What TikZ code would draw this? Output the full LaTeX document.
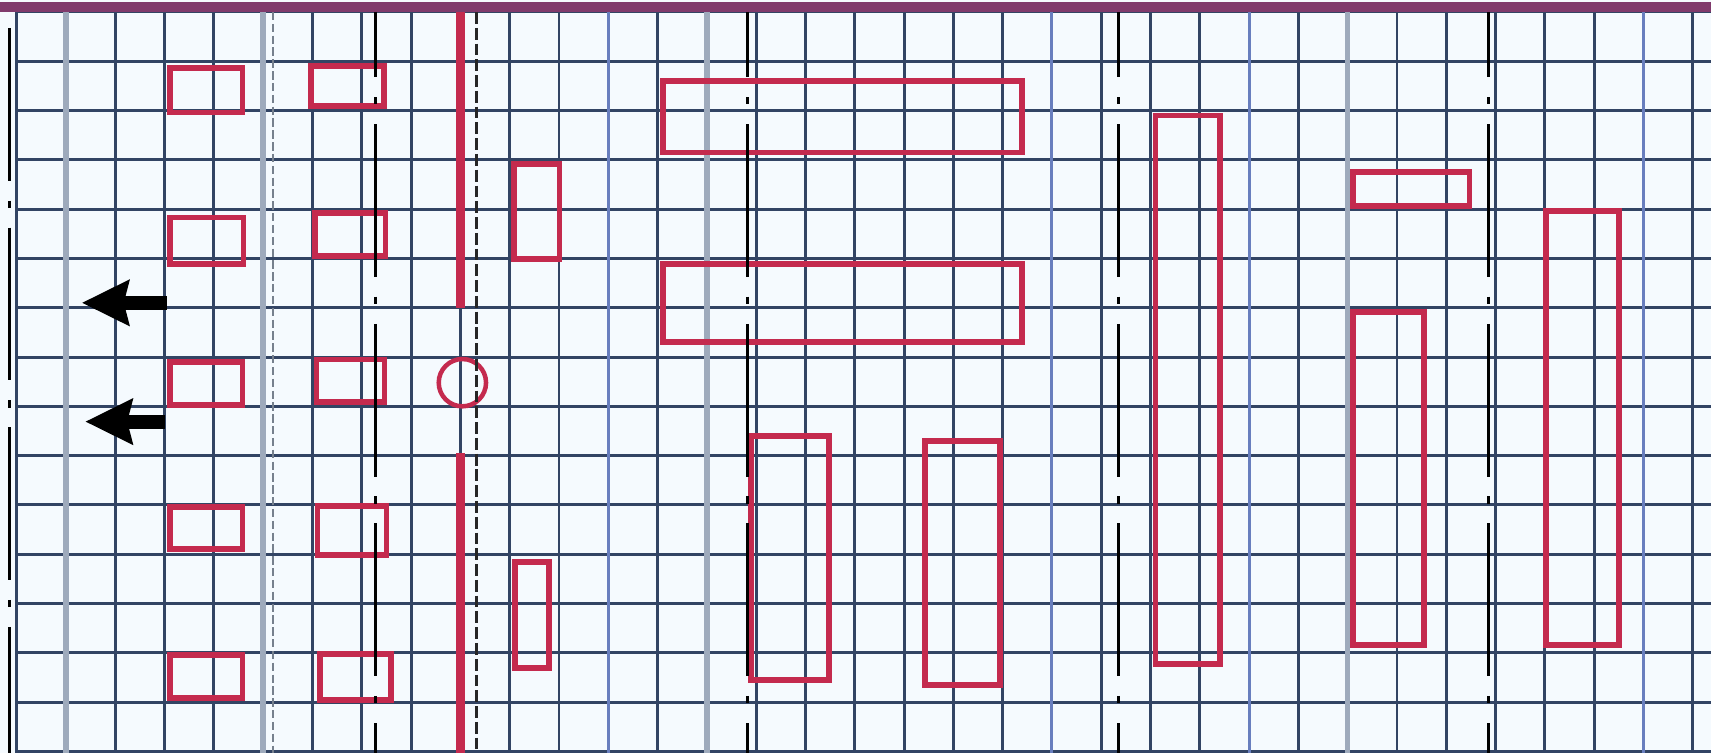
\documentclass[tikz,border=0pt]{standalone}
\usetikzlibrary{arrows.meta}

\definecolor{paper}{RGB}{245,250,254}
\definecolor{gridDark}{RGB}{50,68,100}
\definecolor{gridBlue}{RGB}{104,126,190}
\definecolor{gridGrey}{RGB}{158,170,188}
\definecolor{wallRed}{RGB}{196,42,78}
\definecolor{topRim}{RGB}{128,58,108}

\begin{document}
\begin{tikzpicture}[
    x=1cm, y=1cm,
    gridLine/.style={draw=gridDark, line width=1.7pt},
    softLine/.style={draw=gridBlue, line width=1.7pt},
    greyLine/.style={draw=gridGrey, line width=3.2pt},
    room/.style={draw=wallRed, line width=3.4pt},
    wall/.style={draw=wallRed, line width=5pt},
    axisLine/.style={draw=black, line width=1.8pt, dash pattern=on 3.1cm off 0.4cm on 0.15cm off 0.4cm},
    cutLine/.style={draw=black!85, line width=1.6pt, dash pattern=on 0.24cm off 0.08cm},
    greyDash/.style={draw=gridGrey!75!black, line width=1.6pt, dash pattern=on 0.17cm off 0.07cm},
    bigArrow/.style={-{Stealth[length=0.95cm, width=0.9cm, inset=0.1cm]}, line width=0.28cm}
]
    \useasboundingbox[fill=paper] (-0.34,0.243) rectangle (34.37,-15.03);

    \draw[gridLine] (0,-15.03) grid (34.37,0);
    \foreach \k in {12,21,25,33} \draw[softLine] (\k,0) -- (\k,-15.03);
    \foreach \k in {1,5,14,27} \draw[greyLine] (\k,0) -- (\k,-15.03);
    \draw[greyDash] (5.2,0) -- (5.2,-15.03);

    \draw[topRim, line width=5.8pt] (-0.34,0.1) -- (34.37,0.1);

    % rooms, left block
    \draw[room] (3.1,-1.13) rectangle (4.58,-2.04);
    \draw[room] (3.1,-4.17) rectangle (4.6,-5.12);
    \draw[room] (3.1,-7.1) rectangle (4.58,-7.98);
    \draw[room] (3.1,-10.05) rectangle (4.58,-10.9);
    \draw[room] (3.1,-13.05) rectangle (4.58,-13.91);

    \draw[room] (5.96,-1.09) rectangle (7.45,-1.9);
    \draw[room] (6.05,-4.07) rectangle (7.48,-4.95);
    \draw[room] (6.08,-7.05) rectangle (7.46,-7.92);
    \draw[room] (6.1,-10.03) rectangle (7.5,-11.01);
    \draw[room] (6.15,-13.03) rectangle (7.6,-13.95);

    \draw[room] (10.09,-3.08) rectangle (11.01,-5.01);
    \draw[room] (10.1,-11.15) rectangle (10.8,-13.3);

    % rooms, middle block
    \draw[room] (13.11,-1.4) rectangle (20.39,-2.85);
    \draw[room] (13.11,-5.12) rectangle (20.39,-6.7);
    \draw[room] (14.9,-8.6) rectangle (16.47,-13.55);
    \draw[room] (18.43,-8.7) rectangle (19.95,-13.65);

    % rooms, right block
    \draw[room] (23.1,-2.1) rectangle (24.4,-13.22);
    \draw[room] (27.11,-3.25) rectangle (29.47,-3.93);
    \draw[room] (27.1,-6.09) rectangle (28.55,-12.85);
    \draw[room] (31.03,-4.03) rectangle (32.5,-12.85);

    \draw[wall] (9.0,0) -- (9.0,-6.0);
    \draw[wall] (9.0,-8.95) -- (9.0,-15.03);
    \draw[room, line width=2.6pt] (9.04,-7.52) circle[radius=0.48];

    \draw[axisLine, dash phase=3.925cm] (-0.14,-0.2) -- (-0.14,-15.03);
    \foreach \x in {7.27,14.83,22.35,29.85}
        \draw[axisLine, dash phase=1.775cm] (\x,0) -- (\x,-15.03);
    \draw[cutLine] (9.32,0) -- (9.32,-15.03);

    \draw[bigArrow] (3.04,-5.9) -- (1.32,-5.9);
    \draw[bigArrow] (3.0,-8.31) -- (1.39,-8.31);
\end{tikzpicture}
\end{document}
